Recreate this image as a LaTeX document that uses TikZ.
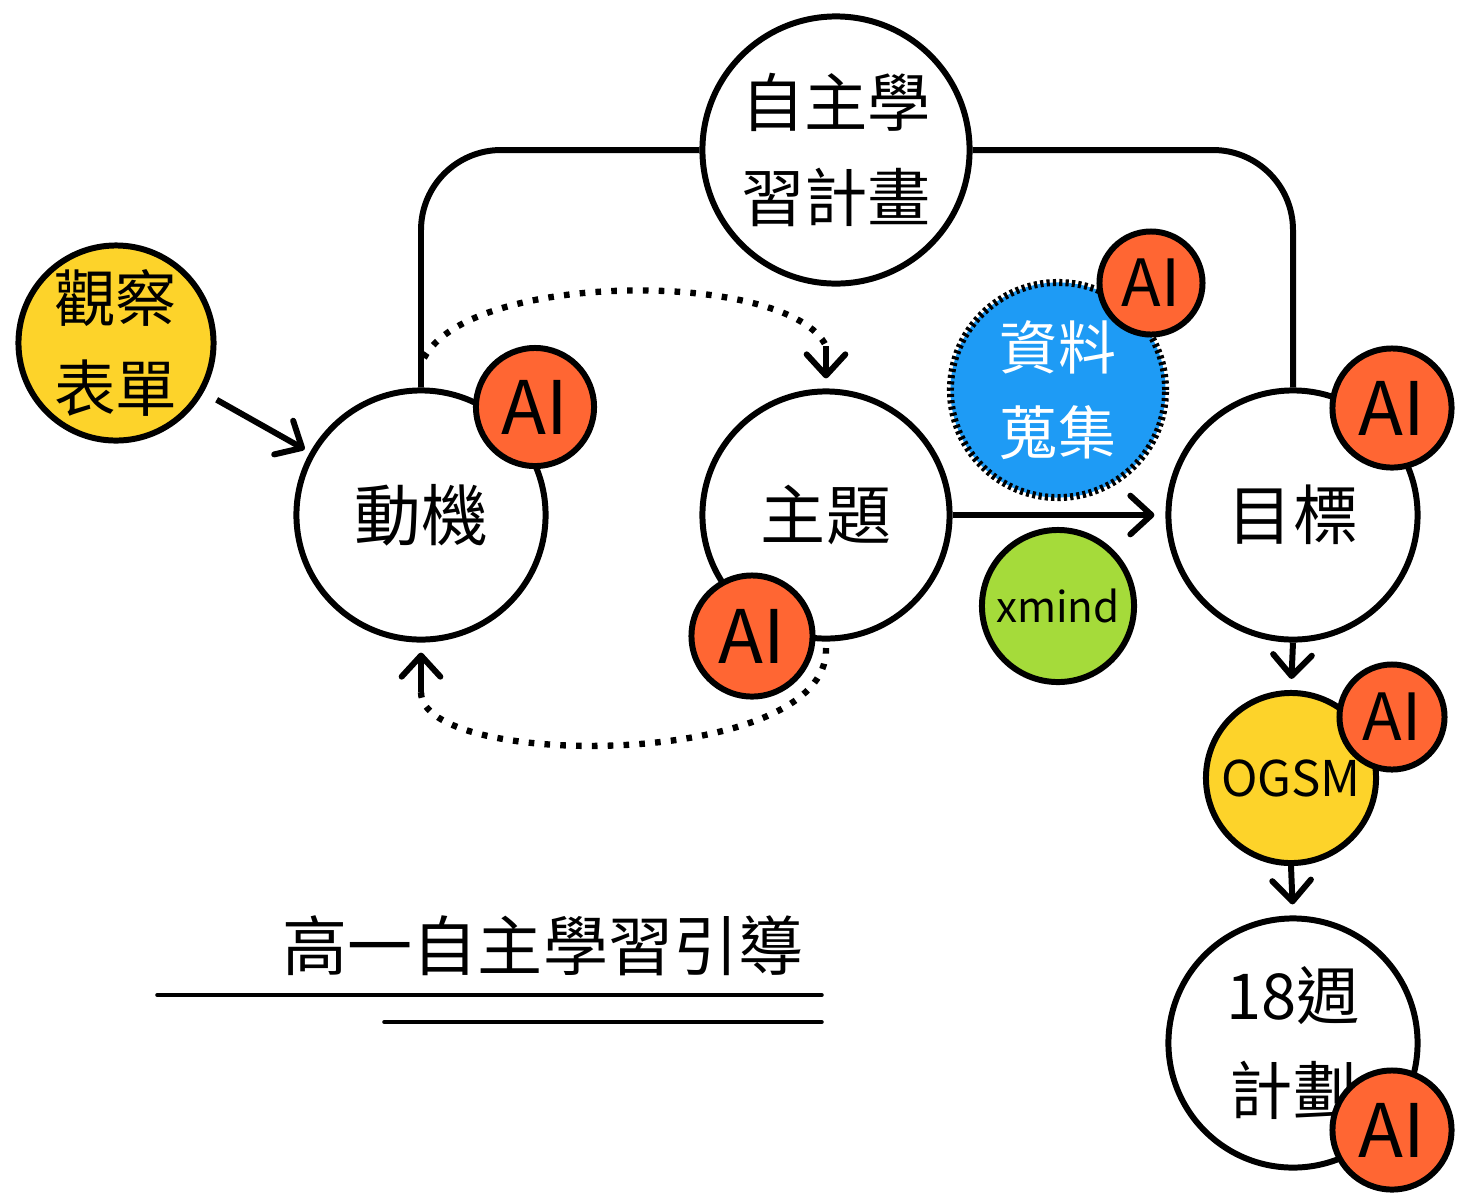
\documentclass[tikz,border=0pt]{standalone}
\usepackage{fontspec}
\newfontfamily\cjk{Noto Sans CJK TC}
\usetikzlibrary{arrows.meta,calc}
\definecolor{aired}{HTML}{FF6633}
\definecolor{yel}{HTML}{FDD32A}
\definecolor{blu}{HTML}{1E9BF5}
\definecolor{grn}{HTML}{A5DB3A}
\tikzset{
  big/.style={circle, draw, line width=1.7pt, fill=white, minimum size=#1, inner sep=0pt, align=center},
  aib/.style={circle, draw, line width=1.7pt, fill=aired, minimum size=#1, inner sep=0pt, font=\cjk\fontsize{21}{21}\selectfont},
  ais/.style={circle, draw, line width=1.7pt, fill=aired, minimum size=#1, inner sep=0pt, font=\cjk\fontsize{18.5}{18.5}\selectfont},
  arr/.style={line width=1.7pt, -{Straight Barb[length=6pt,width=11pt,line width=1.7pt,round]}},
  conn/.style={line width=1.7pt},
  dots/.style={line width=1.8pt, dash pattern=on 1.6pt off 2.9pt},
}
\begin{document}
\begin{tikzpicture}[x=0.01cm,y=-0.01cm]
\useasboundingbox (0,0) rectangle (1460,1196);
% main circles
\node[big=2.67cm, font=\cjk\fontsize{18}{27}\selectfont] (zz) at (836,150) {自主學\\習計畫};
\node[big=1.95cm, fill=yel, font=\cjk\fontsize{17.5}{25.5}\selectfont] (gc) at (116,343) {觀察\\表單};
\node[big=2.49cm, font=\cjk\fontsize{19}{19}\selectfont] (dm) at (421,515) {動機};
\node[big=2.47cm, font=\cjk\fontsize{18.5}{18.5}\selectfont] (zt) at (826,515) {主題};
\node[big=2.49cm, font=\cjk\fontsize{18.5}{18.5}\selectfont] (mb) at (1293,515) {目標};
\node[big=2.15cm, fill=blu, draw=black, line width=2pt, dash pattern=on 0.9pt off 0.9pt, text=white, font=\cjk\fontsize{16.5}{24}\selectfont] (zl) at (1058,390) {資料\\蒐集};
\node[big=1.52cm, fill=grn, font=\cjk\fontsize{12}{12}\selectfont] (xm) at (1058,606) {xmind};
\node[big=1.70cm, fill=yel, font=\cjk\fontsize{14}{14}\selectfont] (og) at (1291,778) {OGSM};
\node[big=2.49cm, font=\cjk\fontsize{18}{27}\selectfont] (wk) at (1293,1043) {18週\\計劃};
% AI badges
\node[aib=1.18cm] (ai1) at (535,407) {AI};
\node[aib=1.21cm] (ai2) at (752,636) {AI};
\node[ais=1.03cm] (ai3) at (1151,283) {AI};
\node[aib=1.19cm] (ai4) at (1392,408) {AI};
\node[ais=1.05cm] (ai5) at (1392,717) {AI};
\node[aib=1.19cm] (ai6) at (1392,1130) {AI};
% solid connectors
\draw[conn, rounded corners=8mm] (dm.north) |- (zz.west);
\draw[conn, rounded corners=8mm] (zz.east) -| (mb.north);
\draw[arr, shorten <=1.5mm, shorten >=0.6mm] (gc) -- (dm);
\draw[arr, shorten >=1.1mm] (zt.east) -- (mb.west);
\draw[arr, shorten >=1.1mm] (mb.south) -- (og.north);
\draw[arr, shorten >=1.1mm] (og.south) -- (wk.north);
% dotted loops
\coordinate (d1s) at (424,358);
\coordinate (d1e) at (826,346);
\draw[dots] (d1s) .. controls (470,270) and (790,270) .. (d1e);
\draw[arr, shorten >=1mm] (d1e) -- (zt.north);
\coordinate (d2s) at (826,648);
\coordinate (d2e) at (421,692);
\draw[dots] (d2s) .. controls (830,770) and (420,770) .. (d2e);
\draw[arr, shorten >=1mm] (d2e) -- (dm.south);
% title
\node[font=\cjk\fontsize{18.5}{18.5}\selectfont] (title) at (543,946) {高一自主學習引導};
\coordinate (u1a) at (157,995);
\coordinate (u1b) at (822,995);
\coordinate (u2a) at (384,1022);
\coordinate (u2b) at (822,1022);
\draw[line width=1pt, line cap=round] (u1a) -- (u1b);
\draw[line width=1pt, line cap=round] (u2a) -- (u2b);
\end{tikzpicture}
\end{document}
